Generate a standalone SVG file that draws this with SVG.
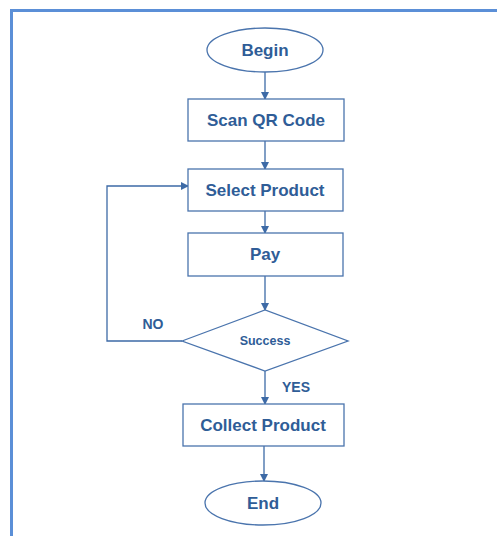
<svg xmlns="http://www.w3.org/2000/svg" width="497" height="536" viewBox="0 0 497 536">
<defs>
<marker id="arr" markerWidth="8" markerHeight="8" refX="7" refY="4" orient="auto" markerUnits="userSpaceOnUse">
<path d="M0,0 L8,4 L0,8 Z" fill="#3d6aa6"/>
</marker>
<style>
.shape{fill:#ffffff;stroke:#4a74ad;stroke-width:1.3}
.conn{fill:none;stroke:#3d6aa6;stroke-width:1.3}
.lbl{font-family:"Liberation Sans",Arial,sans-serif;font-weight:bold;font-size:17px;fill:#2f5d97;text-anchor:middle}
.sm{font-size:12.5px}
.yn{font-size:14px}
</style>
</defs>
<rect width="497" height="536" fill="#ffffff"/>
<path d="M11.5,536 L11.5,10.5 L497,10.5" fill="none" stroke="#5b8fd7" stroke-width="3"/>
<g id="connectors">
<line class="conn" x1="265" y1="72" x2="265" y2="99" marker-end="url(#arr)"/>
<line class="conn" x1="265" y1="141" x2="265" y2="169" marker-end="url(#arr)"/>
<line class="conn" x1="265" y1="211" x2="265" y2="233" marker-end="url(#arr)"/>
<line class="conn" x1="265" y1="276" x2="265" y2="310" marker-end="url(#arr)"/>
<line class="conn" x1="265" y1="371" x2="265" y2="404" marker-end="url(#arr)"/>
<line class="conn" x1="264" y1="446" x2="264" y2="481" marker-end="url(#arr)"/>
<polyline class="conn" points="182,341 107,341 107,186 188,186" marker-end="url(#arr)"/>
<text class="lbl yn" x="153" y="329">NO</text>
<text class="lbl yn" x="296" y="392">YES</text>
</g>
<g id="begin">
<ellipse class="shape" cx="265" cy="50" rx="58" ry="22"/>
<text class="lbl" x="265" y="56">Begin</text>
</g>
<g id="scan">
<rect class="shape" x="188" y="99" width="156" height="42"/>
<text class="lbl" x="266" y="126">Scan QR Code</text>
</g>
<g id="select">
<rect class="shape" x="188" y="169" width="155" height="42"/>
<text class="lbl" x="265" y="196">Select Product</text>
</g>
<g id="pay">
<rect class="shape" x="188" y="233" width="155" height="43"/>
<text class="lbl" x="265" y="260">Pay</text>
</g>
<g id="success">
<polygon class="shape" points="182,341 265,310 348,341 265,371"/>
<text class="lbl sm" x="265" y="345">Success</text>
</g>
<g id="collect">
<rect class="shape" x="183" y="404" width="161" height="42"/>
<text class="lbl" x="263" y="431">Collect Product</text>
</g>
<g id="end">
<ellipse class="shape" cx="263" cy="503" rx="58" ry="22"/>
<text class="lbl" x="263" y="509">End</text>
</g>
</svg>
